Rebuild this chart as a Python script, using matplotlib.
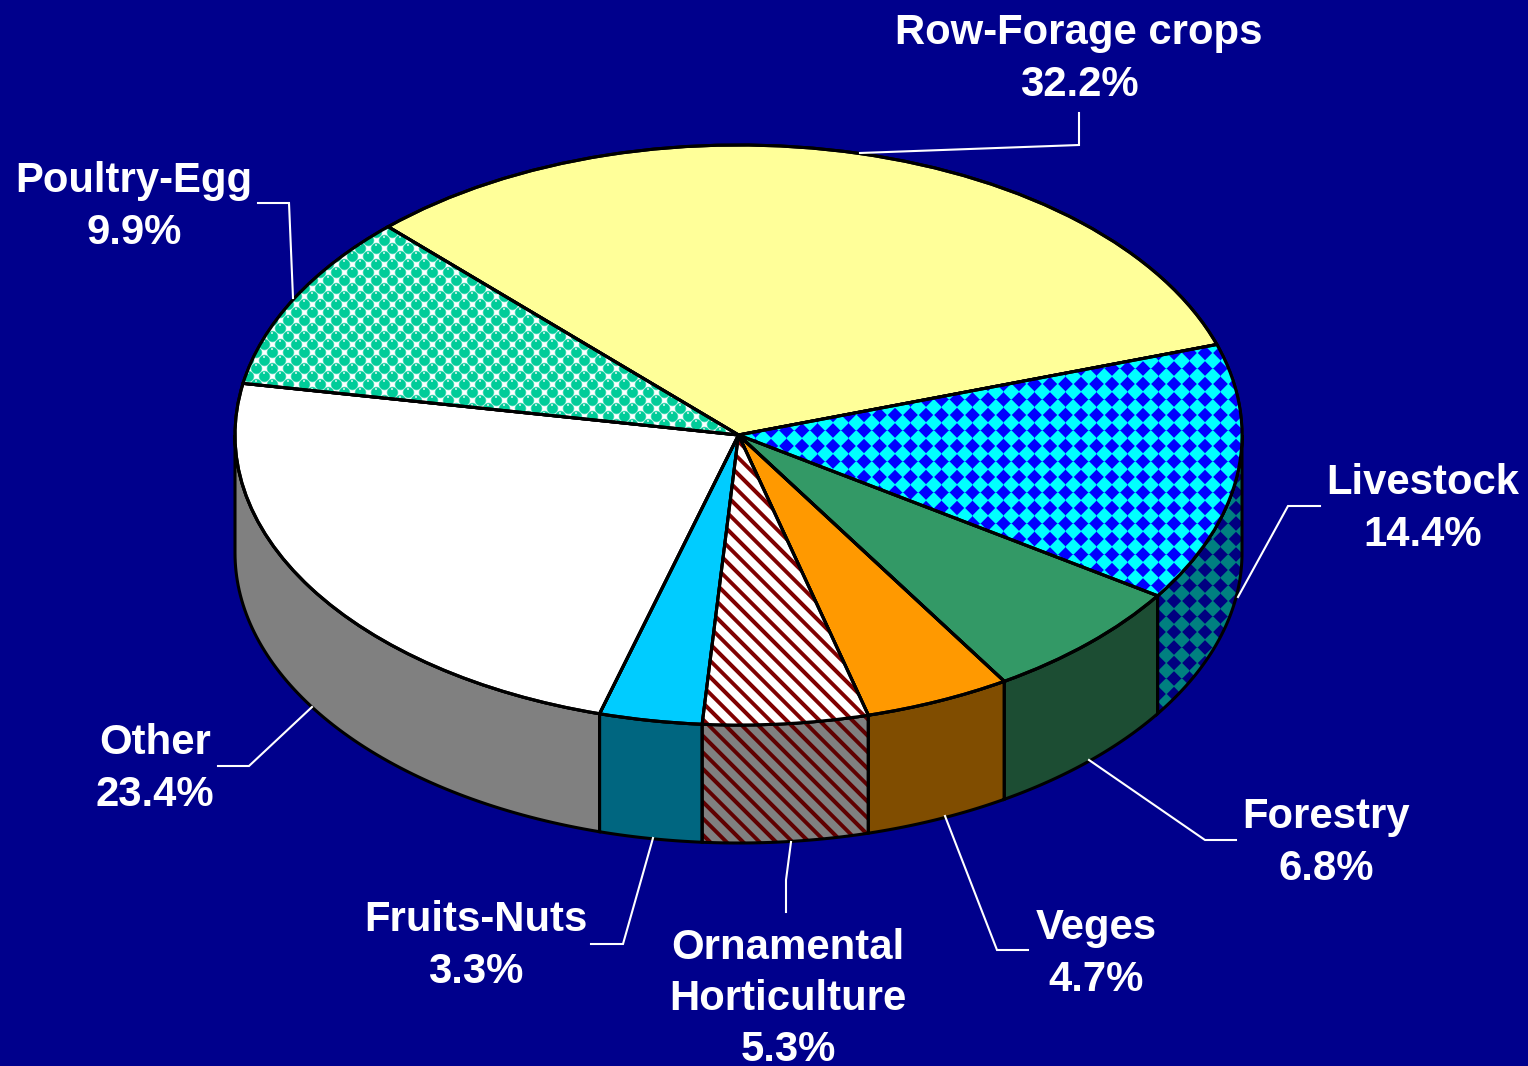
import matplotlib
matplotlib.use('Agg')
import matplotlib.pyplot as plt
import numpy as np

# Values from the chart
categories = ['Row-Forage crops', 'Livestock', 'Forestry', 'Veges',
              'Ornamental\nHorticulture', 'Fruits-Nuts', 'Other', 'Poultry-Egg']
shares = [32.2, 14.4, 6.8, 4.7, 5.3, 3.3, 23.4, 9.9]

# Styles
top_colors = ['#FFFF99', '#00FFFF', '#339966', '#FF9900', '#FFFFFF', '#00CCFF', '#FFFFFF', '#FFFFFF']
side_colors = ['#808040', '#008080', '#1C4D33', '#804D00', '#808080', '#006680', '#808080', '#808080']
BG = '#00008C'

W, H = 1528, 1066
CX, CY, RX, RY, DEPTH = 738.5, 435.0, 503.5, 290.0, 118.0

fig = plt.figure(figsize=(W / 100, H / 100), dpi=100, facecolor=BG)
ax = fig.add_axes([0, 0, 1, 1])

wedges, _ = ax.pie(shares, colors=top_colors, startangle=134.1, counterclock=False, radius=1,
                   wedgeprops=dict(edgecolor='black', linewidth=2.2))
ax.set_aspect('auto')
limits = ((0 - CX) / RX, (W - CX) / RX, (CY - H) / RY, (CY - 0) / RY)
ax.set_xlim(limits[0], limits[1])
ax.set_ylim(limits[2], limits[3])
ax.autoscale(False)


def to_data(px, py):
    return (px - CX) / RX, (CY - py) / RY


# Fill patterns, in picture pixels
yy, xx = np.mgrid[0:H, 0:W]
yy = yy.astype(float)
xx = xx.astype(float)


def rgb(hex_color):
    return np.array(matplotlib.colors.to_rgb(hex_color))


def two_tone(mask, back, front):
    # mask runs from 0 (back) to 1 (front), so edges stay a little soft
    return rgb(back) + (rgb(front) - rgb(back)) * mask[..., None]


def soft(dist, edge):
    return np.clip((edge - dist) / 1.5 + 0.5, 0, 1)


def diamonds(back, front):
    p = 15.5
    ox = ((xx - 11 + p / 2) % p) - p / 2
    oy = ((yy - 11.5 + p / 2) % p) - p / 2
    return two_tone(soft(np.abs(ox) + np.abs(oy), 7.3), back, front)


def stripes(back, front):
    p = 16.5
    d = np.abs(((xx - yy + p / 2) % p) - p / 2)
    return two_tone(soft(d, 2.8), back, front)


def balls():
    a = ((xx + yy + 8) % 16) - 8
    b = ((xx - yy + 8) % 16) - 8
    ox = (a + b) / 2
    oy = (a - b) / 2
    img = two_tone(soft(np.hypot(ox, oy), 5.5), '#FFFFFF', '#00CC99')
    img[np.hypot(ox + 0.5, oy + 3.5) < 1.4] = rgb('#A8EEDB')
    return img


def fill_pattern(img, patch, z):
    im = ax.imshow(img, extent=limits, aspect='auto', interpolation='nearest', zorder=z)
    im.set_clip_path(patch)


# Side walls, only the front half of the cake shows
for i, w in enumerate(wedges):
    t1 = max(w.theta1, -180)
    t2 = min(w.theta2, 0)
    if t1 >= t2:
        continue
    t = np.radians(np.linspace(t1, t2, 80))
    xs = np.cos(t)
    ys = np.sin(t)
    d = DEPTH / RY
    poly = ax.fill(np.r_[xs, xs[::-1]], np.r_[ys, ys[::-1] - d], facecolor=side_colors[i], edgecolor='none', zorder=1)[0]
    if categories[i] == 'Livestock':
        fill_pattern(diamonds('#008080', '#000080'), poly, 2)
    if categories[i].startswith('Ornamental'):
        fill_pattern(stripes('#808080', '#600000'), poly, 2)
    ax.fill(np.r_[xs, xs[::-1]], np.r_[ys, ys[::-1] - d], fill=False, edgecolor='black', linewidth=2.2, zorder=3)

# Top face
for w in wedges:
    w.set_zorder(4)
fill_pattern(diamonds('#00FFFF', '#0000FF'), wedges[1], 5)
fill_pattern(stripes('#FFFFFF', '#800000'), wedges[4], 5)
fill_pattern(balls(), wedges[7], 5)
for w in wedges:
    ax.add_patch(plt.matplotlib.patches.Wedge((0, 0), 1, w.theta1, w.theta2, fill=False,
                                              edgecolor='black', linewidth=2.2, zorder=6))

# Label centres and leader lines, in picture pixels
label_pos = [(1079, 59), (1423, 509), (1326, 843), (1096, 954), (788, 999), (476, 946), (155, 769), (134, 207)]
leaders = [
    [(860, 153), (1079, 145), (1079, 113)],
    [(1238, 597), (1288, 506), (1320, 506)],
    [(1089, 760), (1205, 840), (1236, 840)],
    [(945, 816), (997, 950), (1028, 950)],
    [(791, 842), (786, 880), (786, 912)],
    [(653, 838), (623, 944), (591, 944)],
    [(312, 707), (249, 766), (218, 766)],
    [(293, 298), (289, 203), (258, 203)],
]

for name, value, pos, line in zip(categories, shares, label_pos, leaders):
    pts = [to_data(*p) for p in line]
    ax.plot([p[0] for p in pts], [p[1] for p in pts], color='white', linewidth=1.5, zorder=7,
            solid_joinstyle='miter')
    tx, ty = to_data(*pos)
    ax.text(tx, ty, f'{name}\n{value}%', color='white', fontsize=30.2, fontweight='bold',
            family='Liberation Sans', ha='center', va='center', linespacing=1.37, zorder=8)

fig.savefig('out.png', dpi=100, facecolor=BG)
